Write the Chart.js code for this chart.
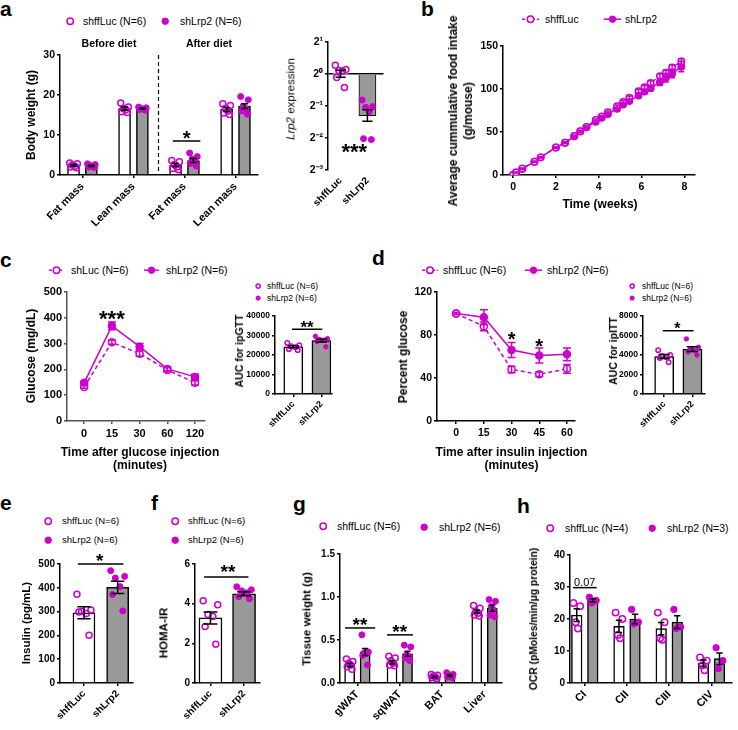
<!DOCTYPE html>
<html>
<head>
<meta charset="utf-8">
<script src="https://cdn.jsdelivr.net/npm/chart.js@4.4.1/dist/chart.umd.min.js"></script>
<style>
  html, body { margin: 0; padding: 0; background: #fff; }
  #fig { position: relative; width: 738px; height: 730px; overflow: hidden;
         font-family: "Liberation Sans", Arial, Helvetica, sans-serif; color: #000; }
  #fig canvas { position: absolute; }
  .t { position: absolute; white-space: nowrap; line-height: 1; }
  svg.sym { position: absolute; overflow: visible; }
</style>
</head>
<body>
<div id="fig"></div>
<script>
const MAG = '#cc00cc';
const GREY = '#999999';

// a - body composition (g)
const compCats = ['Fat mass', 'Lean mass', 'Fat mass', 'Lean mass'];
const compLucMean = [2.4, 16.6, 2.5, 16.4];
const compLucSem = [0.2, 0.4, 0.4, 0.5];
const compLrpMean = [2.3, 16.6, 3.6, 17.2];
const compLrpSem = [0.15, 0.15, 0.5, 0.6];
const compLucDots = [[3.0, 2.8, 2.5, 2.2, 2.0, 1.8], [18.0, 17.0, 16.6, 16.3, 15.8, 15.6], [3.6, 3.3, 2.6, 2.0, 1.6, 1.3], [17.8, 17.4, 16.6, 16.0, 15.5, 15.1]];
const compLrpDots = [[2.8, 2.6, 2.4, 2.2, 2.0, 1.9], [17.0, 16.8, 16.6, 16.5, 16.4, 16.2], [5.5, 4.6, 4.0, 3.4, 2.9, 2.2], [19.6, 18.8, 17.2, 16.6, 16.0, 15.2]];

// a - Lrp2 expression (log2)
const groupCats = ['shffLuc', 'shLrp2'];
const exprLog2 = [0.01, -1.3];
const exprSem = [0.11, 0.18];
const exprLucDots = [0.27, 0.14, 0.11, 0.09, -0.11, -0.42];
const exprLrpDots = [-0.81, -1.02, -1.04, -1.18, -2.02, -2.05];
const exprTicks = [-3, -2, -1, 0, 1];

// b - cumulative food intake
const foodWeeks = [0, 0.14, 0.43, 1.0, 1.29, 2.0, 2.43, 2.86, 3.14, 3.43, 3.86, 4.14, 4.43, 4.86, 5.14, 5.43, 5.86, 6.14, 6.43, 6.86, 7.14, 7.43, 7.86];
const foodLuc = [0, 3, 7.5, 15.5, 20.5, 32, 37.5, 45.5, 51, 56, 64, 68, 73, 80, 85, 90, 97.5, 102, 107, 115, 119, 125, 132];
const foodLucSem = [0, 0.3, 0.5, 0.6, 0.7, 0.8, 0.9, 1, 1, 1.1, 1.2, 1.3, 1.4, 1.5, 1.6, 1.8, 2, 2.2, 2.5, 2.8, 3, 3.2, 3.5];
const foodLrp = [0, 3, 7, 15.5, 20.5, 32, 37.5, 45, 50.5, 55.5, 62, 66.5, 71, 77, 82, 86, 92.5, 97, 101, 108, 113, 118, 126];
const foodLrpSem = [0, 0.3, 0.5, 0.6, 0.7, 0.8, 0.9, 1, 1.1, 1.2, 1.3, 1.4, 1.5, 1.7, 1.9, 2, 2.2, 2.5, 2.8, 4, 5, 5, 6];
const foodXTicks = [0, 2, 4, 6, 8];
const foodYTicks = [0, 50, 100, 150];

// c - ipGTT
const gttTimes = ['0', '15', '30', '60', '120'];
const gttLuc = [132, 305, 261, 198, 148];
const gttLucSem = [5, 8, 10, 8, 8];
const gttLrp = [148, 369, 288, 202, 171];
const gttLrpSem = [6, 15, 12, 7, 10];
const gttYTicks = [0, 100, 200, 300, 400, 500];
const gttAuc = [24200, 27400];
const gttAucSem = [500, 700];
const gttAucLucDots = [26200, 25000, 24500, 24000, 23000, 22500];
const gttAucLrpDots = [29600, 28400, 28000, 27600, 27000, 24200];
const gttAucTicks = [0, 10000, 20000, 30000, 40000];

// d - ipITT
const ittTimes = ['0', '15', '30', '45', '60'];
const ittLuc = [100, 88, 48, 43.5, 48.5];
const ittLucSem = [1, 4, 3, 2, 4];
const ittLrp = [100, 96.5, 66, 61, 62];
const ittLrpSem = [1, 7, 7, 7, 6];
const ittYTicks = [0, 40, 80, 120];
const ittAuc = [3850, 4600];
const ittAucSem = [200, 250];
const ittAucLucDots = [4500, 4000, 3900, 3800, 3700, 3250];
const ittAucLrpDots = [5650, 4800, 4600, 4500, 4300, 4000];
const ittAucTicks = [0, 2000, 4000, 6000, 8000];

// e - insulin
const insulinMean = [295, 402];
const insulinSem = [25, 26];
const insulinLucDots = [373, 307, 300, 292, 298, 201];
const insulinLrpDots = [472, 448, 441, 405, 372, 303];
const insulinTicks = [0, 100, 200, 300, 400, 500];

// f - HOMA-IR
const homaMean = [3.28, 4.5];
const homaSem = [0.3, 0.1];
const homaLucDots = [4.15, 3.95, 3.45, 3.35, 2.85, 1.95];
const homaLrpDots = [4.85, 4.7, 4.65, 4.55, 4.35, 4.25];
const homaTicks = [0, 2, 4, 6];

// g - tissue weight (g)
const tissueCats = ['gWAT', 'sqWAT', 'BAT', 'Liver'];
const tissueLucMean = [0.21, 0.24, 0.07, 0.83];
const tissueLucSem = [0.02, 0.02, 0.01, 0.02];
const tissueLrpMean = [0.36, 0.34, 0.085, 0.87];
const tissueLrpSem = [0.04, 0.03, 0.01, 0.035];
const tissueLucDots = [[0.28, 0.25, 0.23, 0.21, 0.19, 0.16], [0.31, 0.29, 0.26, 0.23, 0.21, 0.2], [0.1, 0.09, 0.08, 0.07, 0.06, 0.05], [0.9, 0.87, 0.83, 0.81, 0.79, 0.78]];
const tissueLrpDots = [[0.56, 0.36, 0.35, 0.34, 0.32, 0.21], [0.44, 0.42, 0.33, 0.31, 0.29, 0.26], [0.12, 0.1, 0.09, 0.08, 0.07, 0.06], [0.97, 0.95, 0.89, 0.85, 0.79, 0.77]];
const tissueTicks = [0, 0.5, 1.0, 1.5];

// h - OCR
const ocrCats = ['CI', 'CII', 'CIII', 'CIV'];
const ocrLucMean = [21.2, 17.7, 17, 6.2];
const ocrLucSem = [2, 1.9, 1.9, 1];
const ocrLrpMean = [25.8, 20, 19, 7.6];
const ocrLrpSem = [0.5, 1.5, 2, 1.8];
const ocrLucDots = [[25, 24, 19, 17], [22, 20, 15, 14], [22, 19, 14, 13.5], [8, 7, 5.5, 4]];
const ocrLrpDots = [[26.8, 25.8, 25], [23, 19, 18.5], [23, 17.5, 17], [11, 7, 4.5]];
const ocrTicks = [0, 10, 20, 30, 40];

Chart.defaults.font.family = '"Liberation Sans", Arial, Helvetica, sans-serif';
Chart.defaults.color = '#000';

const fig = document.getElementById('fig');

// mean +/- SEM whiskers
const errorBars = {
  id: 'errorBars',
  afterDatasetsDraw(chart) {
    const ctx = chart.ctx;
    chart.data.datasets.forEach((ds, i) => {
      if (!ds.err) return;
      const meta = chart.getDatasetMeta(i);
      const ys = chart.scales[meta.yAxisID];
      ctx.save();
      ctx.strokeStyle = ds.errColor || '#000';
      ctx.lineWidth = 1.5;
      meta.data.forEach((el, j) => {
        const raw = ds.data[j];
        const v = (raw !== null && typeof raw === 'object') ? raw.y : raw;
        const e = ds.err[j];
        if (v == null || !e) return;
        const half = el.width ? el.width * 0.3 : (ds.errCap || 3.5);
        const yt = ys.getPixelForValue(v + e), yb = ys.getPixelForValue(v - e);
        ctx.beginPath();
        ctx.moveTo(el.x, yt); ctx.lineTo(el.x, yb);
        ctx.moveTo(el.x - half, yt); ctx.lineTo(el.x + half, yt);
        ctx.moveTo(el.x - half, yb); ctx.lineTo(el.x + half, yb);
        ctx.stroke();
      });
      ctx.restore();
    });
  }
};

// significance lines and stars, in data units
const annot = {
  id: 'annot',
  afterDatasetsDraw(chart, args, opts) {
    const items = opts.items || [];
    const xs = chart.scales.x, ys = chart.scales.y;
    const ctx = chart.ctx;
    items.forEach(it => {
      ctx.save();
      if (it.line) {
        const [x1, y1, x2, y2] = it.line;
        ctx.strokeStyle = '#000';
        ctx.lineWidth = it.lw || 1.5;
        if (it.dash) ctx.setLineDash(it.dash);
        ctx.beginPath();
        ctx.moveTo(xs.getPixelForValue(x1), ys.getPixelForValue(y1));
        ctx.lineTo(xs.getPixelForValue(x2), ys.getPixelForValue(y2));
        ctx.stroke();
      }
      if (it.text) {
        const size = it.size || 18;
        ctx.font = (it.num ? '' : 'bold ') + size + 'px "Liberation Sans", Arial, sans-serif';
        ctx.fillStyle = '#000';
        ctx.textAlign = 'center';
        ctx.textBaseline = 'alphabetic';
        const shift = (it.num ? 0.36 : 0.57) * size;
        ctx.fillText(it.text, xs.getPixelForValue(it.x), ys.getPixelForValue(it.y) + shift);
      }
      ctx.restore();
    });
  }
};
Chart.register(errorBars, annot);

function mkCanvas(b) {
  const c = document.createElement('canvas');
  c.width = b.w; c.height = b.h;
  c.style.left = b.l + 'px'; c.style.top = b.t + 'px';
  c.style.width = b.w + 'px'; c.style.height = b.h + 'px';
  fig.appendChild(c);
  return c;
}

function put(html, x, base, size, o = {}) {
  const d = document.createElement('div');
  d.className = 't';
  d.innerHTML = html;
  d.style.fontSize = size + 'px';
  d.style.fontWeight = o.bold ? 'bold' : 'normal';
  d.style.left = x + 'px';
  d.style.top = (base - 0.8465 * size) + 'px';
  if (o.center) d.style.transform = 'translateX(-50%)';
  fig.appendChild(d);
}

function title(html, cx, cy, size, o = {}) {
  const d = document.createElement('div');
  d.className = 't';
  d.innerHTML = html;
  d.style.fontSize = size + 'px';
  d.style.fontWeight = o.normal ? 'normal' : 'bold';
  d.style.lineHeight = (o.lh || size * 1.15) + 'px';
  d.style.textAlign = 'center';
  d.style.left = cx + 'px';
  d.style.top = cy + 'px';
  d.style.transform = 'translate(-50%,-50%)' + (o.h ? '' : ' rotate(-90deg)');
  fig.appendChild(d);
}

function sym(cx, cy, kind, r, lineW) {
  const ns = 'http://www.w3.org/2000/svg';
  const s = document.createElementNS(ns, 'svg');
  const W = lineW || (2 * r + 4), H = 2 * r + 4;
  s.setAttribute('width', W); s.setAttribute('height', H);
  s.setAttribute('class', 'sym');
  s.style.left = (cx - W / 2) + 'px'; s.style.top = (cy - H / 2) + 'px';
  let html = '';
  if (lineW) html += `<line x1="0" y1="${H / 2}" x2="${W}" y2="${H / 2}" stroke="${MAG}" stroke-width="1.5"${kind === 'open' ? ' stroke-dasharray="3,2"' : ''}/>`;
  html += `<circle cx="${W / 2}" cy="${H / 2}" r="${r}" fill="${kind === 'open' ? '#fff' : MAG}" stroke="${MAG}" stroke-width="${kind === 'open' ? 1.5 : 1}"/>`;
  s.innerHTML = html;
  fig.appendChild(s);
}

function legendItem(cx, cy, kind, label, tx, size, r, lineW) {
  sym(cx, cy, kind, r, lineW);
  put(label, tx, cy + 0.33 * size, size);
}

function yAxis(o) {
  return {
    type: 'linear', position: 'left', min: o.min, max: o.max,
    afterFit: s => { s.width = o.w; },
    afterBuildTicks: s => { s.ticks = o.ticks.map(v => ({ value: v })); },
    ticks: { font: { size: o.fs, weight: 'bold' }, color: '#000', padding: 2, callback: o.fmt || (v => String(v)) },
    grid: o.grid || { drawOnChartArea: false, color: o.ac || '#000', tickLength: 3, lineWidth: 1.5 },
    border: { color: o.ac || '#000', width: 1.5 }
  };
}

const JIT = [-0.75, 0.75, -0.25, 0.25, -0.55, 0.55];

function dotPoints(perCat, offset, halfW, start) {
  const pts = [];
  perCat.forEach((vals, i) => vals.forEach((v, j) => pts.push({ x: start + i + offset + JIT[j % JIT.length] * halfW, y: v })));
  return pts;
}

function dotSet(points, open, r) {
  return {
    type: 'scatter', data: points, order: 1,
    pointStyle: 'circle', pointRadius: r, pointHoverRadius: r,
    pointBackgroundColor: open ? 'rgba(255,255,255,0)' : MAG,
    pointBorderColor: MAG, pointBorderWidth: open ? 1.5 : 1
  };
}

// bars on a linear index axis: category i sits at x = i, groups side by side
function barChart(b, o) {
  const n = o.cats.length;
  const unitPx = (b.w - b.yw - b.pr) / (o.xmax - o.xmin);
  const K = o.paired ? 1 : o.groups.length;
  const slot = o.paired ? 1 : o.catPct / K;
  const barPx = unitPx * slot * o.barPct;
  const hw = slot * o.barPct / 2 * 0.85;
  const datasets = [];
  o.groups.forEach((g, k) => {
    const off = o.paired ? 0 : (k - (K - 1) / 2) * slot;
    const start = o.paired ? k : 0;
    const means = o.paired ? [g.mean] : g.mean;
    const sems = o.paired ? [g.sem] : g.sem;
    datasets.push({
      type: 'bar', grouped: false, barThickness: barPx,
      data: means.map((m, i) => ({ x: start + i + off, y: m })), err: sems,
      backgroundColor: g.fill, borderColor: '#000', borderWidth: o.bw || 1.5, order: 2
    });
    datasets.push(dotSet(dotPoints(o.paired ? [g.dots] : g.dots, off, hw, start), g.open, o.r));
  });
  return new Chart(mkCanvas(b), {
    type: 'bar',
    data: { datasets },
    options: {
      responsive: false, animation: false, devicePixelRatio: 1,
      layout: { padding: { top: b.pt, right: b.pr, left: 0, bottom: 0 } },
      plugins: { legend: { display: false }, tooltip: { enabled: false }, annot: { items: o.annot || [] } },
      scales: {
        x: {
          type: 'linear', min: o.xmin, max: o.xmax, offset: false,
          afterFit: s => { s.height = b.xh; },
          afterBuildTicks: s => { s.ticks = o.cats.map((c, i) => ({ value: i })); },
          ticks: { font: { size: o.xfs, weight: 'bold' }, color: '#000', minRotation: 45, maxRotation: 45, autoSkip: false, padding: 2, callback: v => o.cats[v] },
          grid: { display: !o.noAxis, drawOnChartArea: false, offset: false, color: '#000', tickLength: 3, lineWidth: 1.5 },
          border: { display: !o.noAxis, color: '#000', width: 1.5 }
        },
        y: yAxis(Object.assign({ w: b.yw }, o.y))
      }
    }
  });
}

function lineChart(b, o) {
  const datasets = o.series.map(s => ({
    type: 'line', data: s.vals.map((v, i) => ({ x: o.xs[i], y: v })), err: s.sem, errColor: MAG, errCap: o.cap,
    borderColor: MAG, borderWidth: 1.5, borderDash: s.open ? [4, 3] : [], tension: 0, fill: false,
    pointStyle: 'circle', pointRadius: o.r, pointHoverRadius: o.r,
    pointBackgroundColor: s.open ? '#fff' : MAG, pointBorderColor: MAG, pointBorderWidth: 1.5
  }));
  const ac = o.ac || '#000';
  return new Chart(mkCanvas(b), {
    type: 'line',
    data: { datasets },
    options: {
      responsive: false, animation: false, devicePixelRatio: 1,
      layout: { padding: { top: b.pt, right: b.pr, left: 0, bottom: 0 } },
      plugins: { legend: { display: false }, tooltip: { enabled: false }, annot: { items: o.annot || [] } },
      scales: {
        x: {
          type: 'linear', min: o.x.min, max: o.x.max,
          afterFit: s => { s.height = b.xh; },
          afterBuildTicks: s => { s.ticks = o.x.ticks.map(v => ({ value: v })); },
          ticks: { font: { size: o.x.fs, weight: 'bold' }, color: '#000', minRotation: 0, maxRotation: 0, padding: 3, callback: o.x.fmt || (v => String(v)) },
          grid: { drawOnChartArea: false, color: ac, tickLength: 3, lineWidth: 1.5 },
          border: { color: ac, width: 1.5 }
        },
        y: yAxis(Object.assign({ w: b.yw, ac }, o.y))
      }
    }
  });
}

const SUP = { '-': '\u207B', '0': '\u2070', '1': '\u00B9', '2': '\u00B2', '3': '\u00B3' };

// ---------- a ----------
barChart({ l: 0, t: 45, w: 262, h: 182, pt: 10, pr: 4, yw: 60, xh: 52 }, {
  cats: compCats, xmin: -0.44, xmax: 3.43, catPct: 0.7, barPct: 0.67, r: 3, xfs: 11,
  groups: [
    { mean: compLucMean, sem: compLucSem, dots: compLucDots, fill: '#fff', open: true },
    { mean: compLrpMean, sem: compLrpSem, dots: compLrpDots, fill: GREY, open: false }
  ],
  y: { min: 0, max: 30, ticks: [0, 10, 20, 30], fs: 10.5 },
  annot: [
    { line: [1.49, 30, 1.49, 0], dash: [4, 3], lw: 1.2 },
    { line: [1.77, 8.5, 2.31, 8.5] },
    { text: '*', x: 2.04, y: 10.3, size: 20 }
  ]
});

barChart({ l: 283, t: 32, w: 105, h: 192, pt: 10, pr: 3, yw: 45, xh: 54 }, {
  cats: groupCats, paired: true, xmin: -0.47, xmax: 1.6, barPct: 0.62, r: 3, xfs: 10, noAxis: true, bw: 1,
  groups: [
    { mean: exprLog2[0], sem: exprSem[0], dots: exprLucDots, fill: '#fff', open: true },
    { mean: exprLog2[1], sem: exprSem[1], dots: exprLrpDots, fill: GREY, open: false }
  ],
  y: {
    min: -3, max: 1, ticks: exprTicks, fs: 10.5,
    fmt: v => '2' + String(v).split('').map(c => SUP[c]).join(''),
    grid: { drawOnChartArea: true, color: c => (c.tick && c.tick.value === 0) ? '#000' : 'rgba(0,0,0,0)', tickColor: '#000', tickLength: 3, lineWidth: 1.5 }
  },
  annot: [{ text: '***', x: 0.51, y: -2.26, size: 22 }]
});

// ---------- b ----------
lineChart({ l: 425, t: 36, w: 275, h: 182, pt: 10, pr: 5, yw: 78, xh: 43 }, {
  xs: foodWeeks, r: 3.2, cap: 3,
  series: [
    { vals: foodLuc, sem: foodLucSem, open: true },
    { vals: foodLrp, sem: foodLrpSem, open: false }
  ],
  x: { min: -0.47, max: 8.5, ticks: foodXTicks, fs: 10.5 },
  y: { min: 0, max: 150, ticks: foodYTicks, fs: 10.5 }
});

// ---------- c ----------
lineChart({ l: 10, t: 282, w: 200, h: 182, pt: 10, pr: 5, yw: 57, xh: 43 }, {
  xs: gttTimes.map((t, i) => i), r: 3.5, cap: 4, ac: '#555',
  series: [
    { vals: gttLuc, sem: gttLucSem, open: true },
    { vals: gttLrp, sem: gttLrpSem, open: false }
  ],
  x: { min: -0.62, max: 4.36, ticks: [0, 1, 2, 3, 4], fs: 11, fmt: v => gttTimes[v] },
  y: { min: 0, max: 500, ticks: gttYTicks, fs: 11 },
  annot: [{ text: '***', x: 1, y: 418, size: 22 }]
});

barChart({ l: 233, t: 306, w: 102, h: 140, pt: 10, pr: 3, yw: 42, xh: 52 }, {
  cats: groupCats, paired: true, xmin: -0.65, xmax: 1.35, barPct: 0.67, r: 2.2, xfs: 9,
  groups: [
    { mean: gttAuc[0], sem: gttAucSem[0], dots: gttAucLucDots, fill: '#fff', open: true },
    { mean: gttAuc[1], sem: gttAucSem[1], dots: gttAucLrpDots, fill: GREY, open: false }
  ],
  y: { min: 0, max: 40000, ticks: gttAucTicks, fs: 8.5 },
  annot: [
    { line: [-0.05, 33200, 1.03, 33200] },
    { text: '**', x: 0.49, y: 36000, size: 17 }
  ]
});

// ---------- d ----------
lineChart({ l: 380, t: 282, w: 200, h: 182, pt: 10, pr: 5, yw: 57, xh: 43 }, {
  xs: ittTimes.map((t, i) => i), r: 3.5, cap: 4,
  series: [
    { vals: ittLuc, sem: ittLucSem, open: true },
    { vals: ittLrp, sem: ittLrpSem, open: false }
  ],
  x: { min: -0.69, max: 4.29, ticks: [0, 1, 2, 3, 4], fs: 10.5, fmt: v => ittTimes[v] },
  y: { min: 0, max: 120, ticks: ittYTicks, fs: 10.5 },
  annot: [
    { text: '*', x: 2, y: 80, size: 20 },
    { text: '*', x: 3, y: 74, size: 20 }
  ]
});

barChart({ l: 603, t: 306, w: 105, h: 140, pt: 10, pr: 3, yw: 40, xh: 52 }, {
  cats: groupCats, paired: true, xmin: -0.75, xmax: 1.42, barPct: 0.67, r: 2.2, xfs: 9,
  groups: [
    { mean: ittAuc[0], sem: ittAucSem[0], dots: ittAucLucDots, fill: '#fff', open: true },
    { mean: ittAuc[1], sem: ittAucSem[1], dots: ittAucLrpDots, fill: GREY, open: false }
  ],
  y: { min: 0, max: 8000, ticks: ittAucTicks, fs: 8.5 },
  annot: [
    { line: [-0.05, 6490, 1.04, 6490] },
    { text: '*', x: 0.47, y: 7080, size: 16 }
  ]
});

// ---------- e ----------
barChart({ l: 12, t: 554, w: 125, h: 174, pt: 10, pr: 4, yw: 48, xh: 45 }, {
  cats: groupCats, paired: true, xmin: -0.71, xmax: 1.44, barPct: 0.65, r: 3, xfs: 10,
  groups: [
    { mean: insulinMean[0], sem: insulinSem[0], dots: insulinLucDots, fill: '#fff', open: true },
    { mean: insulinMean[1], sem: insulinSem[1], dots: insulinLrpDots, fill: GREY, open: false }
  ],
  y: { min: 0, max: 500, ticks: insulinTicks, fs: 10 },
  annot: [
    { line: [-0.18, 500, 1.17, 500] },
    { text: '*', x: 0.47, y: 531, size: 19 }
  ]
});

// ---------- f ----------
barChart({ l: 150, t: 554, w: 114, h: 174, pt: 10, pr: 4, yw: 45, xh: 45 }, {
  cats: groupCats, paired: true, xmin: -0.46, xmax: 1.46, barPct: 0.68, r: 3, xfs: 10,
  groups: [
    { mean: homaMean[0], sem: homaSem[0], dots: homaLucDots, fill: '#fff', open: true },
    { mean: homaMean[1], sem: homaSem[1], dots: homaLrpDots, fill: GREY, open: false }
  ],
  y: { min: 0, max: 6, ticks: homaTicks, fs: 10 },
  annot: [
    { line: [-0.19, 5.34, 1.13, 5.34] },
    { text: '**', x: 0.52, y: 5.85, size: 19 }
  ]
});

// ---------- g ----------
barChart({ l: 295, t: 544, w: 211, h: 184, pt: 10, pr: 4, yw: 45, xh: 45 }, {
  cats: tissueCats, xmin: -0.41, xmax: 3.4, catPct: 0.73, barPct: 0.65, r: 3, xfs: 11,
  groups: [
    { mean: tissueLucMean, sem: tissueLucSem, dots: tissueLucDots, fill: '#fff', open: true },
    { mean: tissueLrpMean, sem: tissueLrpSem, dots: tissueLrpDots, fill: GREY, open: false }
  ],
  y: { min: 0, max: 1.5, ticks: tissueTicks, fs: 10, fmt: v => v.toFixed(1) },
  annot: [
    { line: [-0.29, 0.64, 0.42, 0.64] },
    { text: '**', x: 0.06, y: 0.73, size: 19 },
    { line: [0.7, 0.56, 1.31, 0.56] },
    { text: '**', x: 1.0, y: 0.645, size: 19 }
  ]
});

// ---------- h ----------
barChart({ l: 523, t: 545, w: 213, h: 183, pt: 10, pr: 4, yw: 47, xh: 45 }, {
  cats: ocrCats, xmin: -0.35, xmax: 3.47, catPct: 0.76, barPct: 0.66, r: 3.2, xfs: 11,
  groups: [
    { mean: ocrLucMean, sem: ocrLucSem, dots: ocrLucDots, fill: '#fff', open: true },
    { mean: ocrLrpMean, sem: ocrLrpSem, dots: ocrLrpDots, fill: GREY, open: false }
  ],
  y: { min: 0, max: 40, ticks: ocrTicks, fs: 10 },
  annot: [
    { line: [-0.28, 29.8, 0.28, 29.8] },
    { text: '0.07', x: 0.0, y: 31.6, size: 11, num: true }
  ]
});

// ---------- panel letters ----------
put('a', 0, 16, 21, { bold: true });
put('b', 421, 16, 21, { bold: true });
put('c', 0, 267, 21, { bold: true });
put('d', 372, 265, 21, { bold: true });
put('e', 0, 510, 21, { bold: true });
put('f', 151, 510, 21, { bold: true });
put('g', 293, 511, 21, { bold: true });
put('h', 517, 513, 21, { bold: true });

// ---------- legends ----------
legendItem(70, 21, 'open', 'shffLuc (N=6)', 83, 10.5, 3.2);
legendItem(165, 21, 'filled', 'shLrp2 (N=6)', 180, 10.5, 3.2);
legendItem(530, 19, 'open', 'shffLuc', 545, 10.5, 3.2, 17);
legendItem(612, 19, 'filled', 'shLrp2', 625, 10.5, 3.2, 17);
legendItem(56, 270, 'open', 'shLuc (N=6)', 71, 10.5, 3.2, 15);
legendItem(151, 270, 'filled', 'shLrp2 (N=6)', 166, 10.5, 3.2, 15);
legendItem(258, 286, 'open', 'shffLuc (N=6)', 267, 8.5, 2.1);
legendItem(258, 298, 'filled', 'shLrp2 (N=6)', 267, 8.5, 2.1);
legendItem(430, 270, 'open', 'shffLuc (N=6)', 443, 10.5, 3.2, 16);
legendItem(533, 270, 'filled', 'shLrp2 (N=6)', 547, 10.5, 3.2, 17);
legendItem(632, 286, 'open', 'shffLuc (N=6)', 642, 8.5, 2.1);
legendItem(632, 298, 'filled', 'shLrp2 (N=6)', 642, 8.5, 2.1);
legendItem(48, 521, 'open', 'shffLuc (N=6)', 62, 9.5, 3.2);
legendItem(48, 540, 'filled', 'shLrp2 (N=6)', 62, 9.5, 3.2);
legendItem(175, 521, 'open', 'shffLuc (N=6)', 188, 9.5, 3.2);
legendItem(175, 540, 'filled', 'shLrp2 (N=6)', 188, 9.5, 3.2);
legendItem(323, 526, 'open', 'shffLuc (N=6)', 337, 10.5, 3.2);
legendItem(424, 527, 'filled', 'shLrp2 (N=6)', 439, 10.5, 3.2);
legendItem(550, 528, 'open', 'shffLuc (N=4)', 565, 10.5, 3.2);
legendItem(652, 528, 'filled', 'shLrp2 (N=3)', 667, 10.5, 3.2);

// ---------- headers and axis titles ----------
put('Before diet', 109, 47, 10.5, { bold: true, center: true });
put('After diet', 209, 47, 10.5, { bold: true, center: true });
title('Body weight (g)', 32, 115, 12);
title('<i>Lrp2</i> expression', 291, 99, 11.5, { normal: true });
title('Average cummulative food intake<br>(g/mouse)', 460.5, 110.5, 12, { lh: 15 });
title('Time (weeks)', 600, 205, 12, { h: true });
title('Glucose (mg/dL)', 32, 356, 12);
title('Time after glucose injection<br>(minutes)', 140, 458.5, 12, { h: true, lh: 13 });
title('AUC for ipGTT', 238.5, 351, 10.5);
title('Percent glucose', 404, 357, 12);
title('Time after insulin injection<br>(minutes)', 511.5, 458.5, 12, { h: true, lh: 13 });
title('AUC for ipITT', 613, 351, 10.5);
title('Insulin (pg/mL)', 27, 623, 11.5);
title('HOMA-IR', 163.5, 633, 11.5);
title('Tissue weight (g)', 307, 619, 11.5);
title('OCR (pMoles/min/\u03BCg protein)', 534, 619, 10.3);
</script>
</body>
</html>
